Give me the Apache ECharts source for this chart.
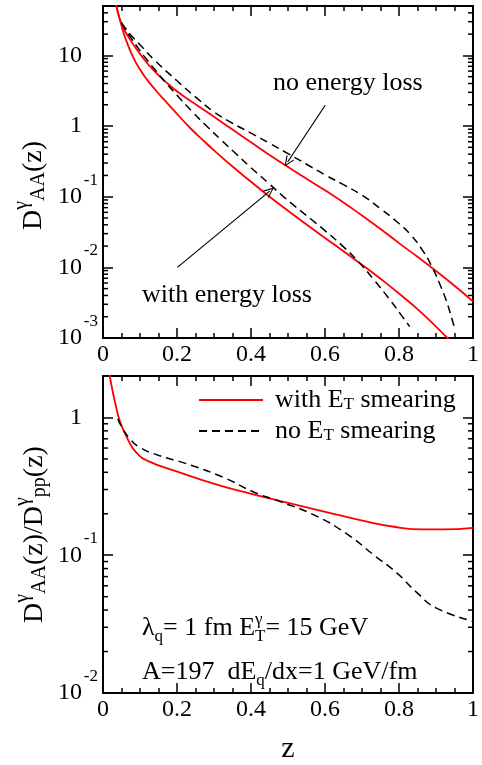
<!DOCTYPE html>
<html><head><meta charset="utf-8">
<script src="https://cdn.jsdelivr.net/npm/echarts@6/dist/echarts.min.js"></script>
<style>html,body{margin:0;padding:0;background:#fff}#c{width:482px;height:765px}</style>
</head><body><div id="c"></div>
<script>
const FONT = "'Liberation Serif','Times New Roman',serif";

// ---------- top panel: D_AA^gamma(z) ----------
const topNoLossSmear = [[0.030,70],[0.036,50],[0.05,28],[0.07,17.8],[0.10,10.5],[0.14,5.9],[0.20,3.1],[0.25,2.04],[0.30,1.35],[0.35,0.89],[0.40,0.59],[0.45,0.39],[0.50,0.263],[0.55,0.18],[0.60,0.123],[0.65,0.083],[0.70,0.054],[0.75,0.035],[0.80,0.022],[0.85,0.0141],[0.90,0.0089],[0.95,0.0055],[1.00,0.0033]];
const topNoLossNoSmear = [[0.05,28.8],[0.06,24.5],[0.08,18.2],[0.10,14.1],[0.14,8.5],[0.20,4.37],[0.257,2.4],[0.30,1.585],[0.35,1.096],[0.40,0.794],[0.45,0.569],[0.50,0.407],[0.55,0.288],[0.60,0.204],[0.65,0.148],[0.70,0.105],[0.75,0.0676],[0.80,0.0417],[0.83,0.0295],[0.865,0.017],[0.892,0.0095],[0.909,0.006],[0.927,0.00347],[0.944,0.0018],[0.951,0.00132]];
const topLossSmear = [[0.030,70],[0.036,50],[0.049,27.5],[0.06,17.8],[0.08,9.8],[0.10,6.31],[0.12,4.47],[0.142,3.24],[0.17,2.21],[0.204,1.41],[0.235,0.946],[0.274,0.604],[0.30,0.453],[0.35,0.267],[0.40,0.163],[0.446,0.104],[0.50,0.0634],[0.55,0.0405],[0.60,0.0261],[0.65,0.0169],[0.711,0.00989],[0.75,0.0069],[0.80,0.00426],[0.85,0.00256],[0.90,0.00145],[0.931,0.001],[0.96,0.00072]];
const topLossNoSmear = [[0.05,28.8],[0.06,23.4],[0.071,19.1],[0.09,13.8],[0.111,9.77],[0.14,6.31],[0.168,4.22],[0.20,2.72],[0.24,1.62],[0.28,1.0],[0.32,0.631],[0.36,0.403],[0.40,0.257],[0.45,0.151],[0.486,0.102],[0.52,0.0724],[0.565,0.0468],[0.60,0.0331],[0.65,0.0195],[0.689,0.0122],[0.733,0.0066],[0.777,0.00339],[0.808,0.00204],[0.829,0.00145]];

// ---------- bottom panel: ratio ----------
const botSmear = [[0.012,2.7],[0.0185,2.0],[0.025,1.6],[0.032,1.31],[0.045,0.95],[0.063,0.73],[0.089,0.56],[0.124,0.48],[0.195,0.41],[0.301,0.33],[0.398,0.28],[0.503,0.239],[0.609,0.204],[0.698,0.179],[0.786,0.161],[0.865,0.154],[0.918,0.154],[1.0,0.158]];
const botNoSmear = [[0.04,0.98],[0.05,0.86],[0.071,0.71],[0.098,0.61],[0.151,0.53],[0.221,0.466],[0.327,0.366],[0.407,0.288],[0.477,0.246],[0.574,0.194],[0.662,0.141],[0.733,0.0998],[0.794,0.0745],[0.847,0.054],[0.90,0.0415],[1.0,0.0332]];

const topYRange = [0.001, 50];
const botYRange = [0.01, 2];
const xRange = [0, 1];

// minor tick values (2..9 x 10^n) for the log axes
function logMinors(range){
  const out = [];
  for (let e = Math.floor(Math.log10(range[0])); e <= Math.ceil(Math.log10(range[1])); e++) {
    for (let k = 2; k <= 9; k++) { const v = k * Math.pow(10, e); if (v > range[0] && v < range[1]) out.push([0, v]); }
  }
  return out;
}
const topMinorTicks = logMinors(topYRange);
const botMinorTicks = logMinors(botYRange);

const chart = echarts.init(document.getElementById('c'), null, {renderer:'canvas'});

const ctx = document.createElement('canvas').getContext('2d');
function tw(t, s){ ctx.font = s + 'px ' + FONT; return ctx.measureText(t).width; }
function seqText(items, x0, y0, rot){
  const children = [];
  let x = 0, prevX = 0, prevW = 0;
  items.forEach(it => {
    const w = tw(it.t, it.s);
    let px;
    if (it.stack) { px = prevX; x = prevX + Math.max(prevW, w); }
    else { px = x; x = x + w; prevX = px; prevW = w; }
    children.push({type:'text', x: px, y: (it.dy||0) - 0.31*it.s,
      style:{text: it.t, font: it.s + 'px ' + FONT, fill:'#000', align:'left', verticalAlign:'middle'}});
  });
  return {type:'group', x:x0, y:y0, rotation: rot||0, children};
}

function logLabel(v){
  const l = Math.log10(v); const e = Math.round(l);
  if (Math.abs(l - e) > 1e-6) return '';
  if (e === 0) return '{m|1}{s|\u00a0}';
  if (e === 1) return '{m|10}{s|\u00a0}';
  return '{m|10}{s|' + e + '}';
}
const richLab = {
  m:{fontFamily:FONT, fontSize:24, lineHeight:50, verticalAlign:'middle', color:'#000'},
  s:{fontFamily:FONT, fontSize:17, lineHeight:14, verticalAlign:'top', width:16, color:'#000'}
};
const axLine = {show:true, onZero:false, lineStyle:{color:'#000', width:2}};
const tick = {show:true, inside:true, length:10, lineStyle:{color:'#000', width:1.5}};
function xAx(grid, pos, labels, name){
  return {type:'value', gridIndex:grid, position:pos, min:xRange[0], max:xRange[1], interval:0.2,
    axisLine:axLine, axisTick:tick, splitLine:{show:false},
    minorTick:{show:true, splitNumber:4, length:5, lineStyle:{color:'#000', width:1.5}},
    axisLabel:{show:labels, fontFamily:FONT, fontSize:24, color:'#000', margin:5},
    name: name||'', nameLocation:'middle', nameGap:41,
    nameTextStyle:{fontFamily:FONT, fontSize:30, color:'#000'}};
}
function yAx(grid, pos, labels, range){
  return {type:'log', logBase:10, gridIndex:grid, position:pos, min:range[0], max:range[1],
    axisLine:axLine, axisTick:tick, splitLine:{show:false}, minorTick:{show:false},
    axisLabel:{show:labels, margin:5, formatter:logLabel, rich:richLab}};
}

const red = {color:'#ff0000', width:1.8, type:'solid'};
const dash = {color:'#000000', width:1.5, type:[8,5]};
function ser(name, data, xi, yi, ls, extra){
  return Object.assign({name, type:'line', data, xAxisIndex:xi, yAxisIndex:yi, smooth:true,
    symbol:'none', showSymbol:false, lineStyle:ls, itemStyle:{color:ls.color}, clip:true, z:3}, extra||{});
}
function minorTickItem(params, api){
  const v = api.value(1);
  const pL = api.coord([xRange[0], v]);
  const pR = api.coord([xRange[1], v]);
  return {type:'group', children:[
    {type:'line', shape:{x1:pL[0], y1:pL[1], x2:pL[0]+5, y2:pL[1]}, style:{stroke:'#000', lineWidth:1.5}},
    {type:'line', shape:{x1:pR[0]-5, y1:pR[1], x2:pR[0], y2:pR[1]}, style:{stroke:'#000', lineWidth:1.5}}]};
}
function minorSer(data, xi, yi){
  return {name:'minor'+xi, type:'custom', data, xAxisIndex:xi, yAxisIndex:yi, encode:{x:0, y:1},
    renderItem:minorTickItem, silent:true, z:4};
}
const arrowPath = 'path://M5,0 L10,10 L9,10.8 L5,2.4 L1,10.8 L0,10 Z';

const option = {
  animation:false,
  backgroundColor:'#fff',
  grid:[{left:103, top:6, width:378, height:332},{left:103, top:376, width:378, height:330}],
  xAxis:[xAx(0,'bottom',true), xAx(0,'top',false), xAx(1,'bottom',true,'z'), xAx(1,'top',false)],
  yAxis:[yAx(0,'left',true,topYRange), yAx(0,'right',false,topYRange), yAx(1,'left',true,botYRange), yAx(1,'right',false,botYRange)],
  legend:{data:['with E_T smearing','no E_T smearing'], orient:'vertical', left:193, top:382,
    itemWidth:64, itemHeight:14, itemGap:5, selectedMode:false,
    itemStyle:{opacity:0, borderWidth:0},
    formatter: n => n === 'with E_T smearing' ? 'with E{t|T} smearing' : 'no E{t|T} smearing',
    textStyle:{fontFamily:FONT, fontSize:26, lineHeight:26, color:'#000', padding:[0,0,0,7],
      rich:{t:{fontFamily:FONT, fontSize:17, lineHeight:12, verticalAlign:'bottom', color:'#000'}}}},
  series:[
    ser('noLossSmear', topNoLossSmear, 0, 0, red, {markLine:{silent:true, symbol:['none', arrowPath], symbolSize:[9,11],
      lineStyle:{color:'#000', width:1.2, type:'solid'}, label:{show:false},
      data:[[{coord:[0.6005,1.97]},{coord:[0.499,0.31]}],[{coord:[0.201,0.01]},{coord:[0.4505,0.12]}]]}}),
    ser('noLossNoSmear', topNoLossNoSmear, 0, 0, dash),
    ser('lossSmear', topLossSmear, 0, 0, red),
    ser('lossNoSmear', topLossNoSmear, 0, 0, dash),
    ser('with E_T smearing', botSmear, 2, 2, red),
    ser('no E_T smearing', botNoSmear, 2, 2, dash),
    minorSer(topMinorTicks, 0, 0),
    minorSer(botMinorTicks, 2, 2)
  ],
  graphic:[
    seqText([{t:'D',s:28},{t:'γ',s:20,dy:-14},{t:'AA',s:20,dy:3},{t:'(z)',s:28}], 42, 230, Math.PI/2),
    seqText([{t:'D',s:28},{t:'γ',s:20,dy:-14},{t:'AA',s:20,dy:3},{t:'(z)/D',s:28},{t:'γ',s:20,dy:-14},{t:'pp',s:20,dy:3},{t:'(z)',s:28}], 43, 623, Math.PI/2),
    seqText([{t:'no energy loss',s:26}], 273, 91.7),
    seqText([{t:'with energy loss',s:26}], 142, 303),
    seqText([{t:'λ',s:26},{t:'q',s:17,dy:6},{t:'= 1 fm E',s:26},{t:'γ',s:17,dy:-11},{t:'T',s:17,dy:6,stack:true},{t:'= 15 GeV',s:26}], 142, 636),
    seqText([{t:'A=197  dE',s:26},{t:'q',s:17,dy:6},{t:'/dx=1 GeV/fm',s:26}], 142, 680)
  ]
};
chart.setOption(option);
</script></body></html>
